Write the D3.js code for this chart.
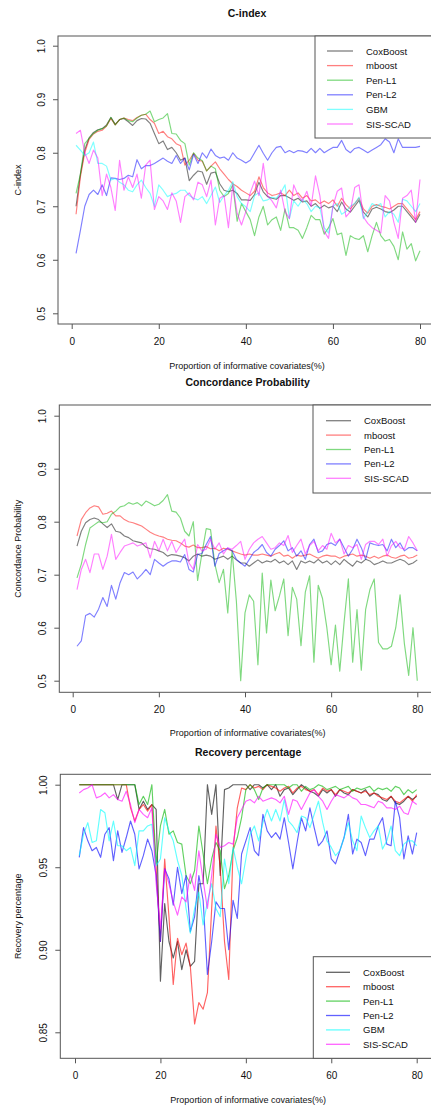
<!DOCTYPE html>
<html><head><meta charset="utf-8">
<script src="https://cdn.jsdelivr.net/npm/d3@7"></script>
<style>body{margin:0;background:#fff}svg{display:block}text{font-family:"Liberation Sans",Arial,sans-serif;fill:#111}</style>
</head><body><svg id="c" width="431" height="1106"></svg>
<script>
const xValues = d3.range(1, 81);
const xTicks = [0, 20, 40, 60, 80];
const yTicks12 = [0.5, 0.6, 0.7, 0.8, 0.9, 1.0];
const yTicks3 = [0.85, 0.90, 0.95, 1.00];
const titles = ["C-index", "Concordance Probability", "Recovery percentage"];
const yLabels = ["C-index", "Concordance Probability", "Recovery percentage"];
const xLabel = "Proportion of informative covariates(%)";
const methods6 = ["CoxBoost", "mboost", "Pen-L1", "Pen-L2", "GBM", "SIS-SCAD"];
const methods5 = ["CoxBoost", "mboost", "Pen-L1", "Pen-L2", "SIS-SCAD"];

// ---- C-index ----
const cCox = [0.700,0.760,0.805,0.828,0.838,0.843,0.845,0.852,0.866,0.853,
 0.862,0.864,0.858,0.851,0.860,0.864,0.863,0.855,0.836,0.817,
 0.822,0.806,0.810,0.800,0.786,0.790,0.748,0.758,0.766,0.764,
 0.741,0.762,0.764,0.742,0.730,0.727,0.730,0.724,0.712,0.712,
 0.711,0.722,0.745,0.727,0.718,0.715,0.713,0.720,0.720,0.716,
 0.711,0.715,0.708,0.710,0.700,0.705,0.696,0.702,0.697,0.700,
 0.690,0.708,0.695,0.689,0.700,0.711,0.689,0.680,0.695,0.698,
 0.695,0.690,0.688,0.693,0.700,0.700,0.690,0.680,0.670,0.685];
const cMboost = [0.685,0.755,0.800,0.825,0.835,0.840,0.842,0.850,0.864,0.852,
 0.862,0.865,0.862,0.860,0.866,0.870,0.872,0.862,0.855,0.836,
 0.840,0.830,0.826,0.817,0.813,0.777,0.786,0.799,0.786,0.784,
 0.766,0.775,0.783,0.770,0.760,0.750,0.742,0.737,0.730,0.725,
 0.720,0.728,0.755,0.735,0.725,0.720,0.722,0.725,0.720,0.730,
 0.720,0.725,0.715,0.720,0.710,0.712,0.705,0.710,0.705,0.712,
 0.700,0.715,0.703,0.695,0.705,0.715,0.695,0.687,0.700,0.703,
 0.700,0.698,0.695,0.700,0.705,0.705,0.695,0.685,0.675,0.690];
const cPenL1 = [0.724,0.760,0.817,0.827,0.836,0.842,0.845,0.850,0.866,0.852,
 0.862,0.865,0.860,0.858,0.865,0.870,0.872,0.878,0.858,0.862,
 0.865,0.873,0.836,0.835,0.823,0.817,0.777,0.800,0.790,0.785,
 0.766,0.775,0.770,0.730,0.718,0.724,0.740,0.672,0.705,0.690,
 0.675,0.645,0.680,0.700,0.665,0.675,0.680,0.655,0.695,0.660,
 0.660,0.655,0.640,0.660,0.683,0.675,0.675,0.648,0.660,0.677,
 0.647,0.650,0.608,0.645,0.640,0.638,0.645,0.615,0.645,0.670,
 0.645,0.635,0.638,0.625,0.600,0.652,0.620,0.630,0.598,0.617];
const cPenL2 = [0.612,0.655,0.700,0.722,0.730,0.722,0.740,0.720,0.753,0.752,
 0.750,0.752,0.758,0.755,0.787,0.770,0.776,0.776,0.780,0.785,
 0.790,0.784,0.780,0.795,0.780,0.790,0.768,0.797,0.780,0.800,
 0.790,0.807,0.795,0.790,0.792,0.786,0.800,0.790,0.786,0.781,
 0.786,0.800,0.814,0.799,0.786,0.800,0.810,0.812,0.800,0.804,
 0.800,0.804,0.803,0.800,0.808,0.800,0.808,0.800,0.805,0.810,
 0.810,0.823,0.806,0.800,0.808,0.810,0.805,0.800,0.805,0.810,
 0.815,0.826,0.820,0.800,0.826,0.810,0.810,0.810,0.810,0.812];
const cGBM = [0.814,0.805,0.795,0.800,0.820,0.780,0.780,0.775,0.749,0.752,
 0.745,0.740,0.730,0.727,0.740,0.749,0.735,0.724,0.700,0.740,
 0.730,0.718,0.722,0.724,0.730,0.730,0.720,0.715,0.712,0.718,
 0.705,0.720,0.736,0.707,0.720,0.730,0.746,0.718,0.705,0.699,
 0.690,0.720,0.725,0.710,0.712,0.717,0.715,0.725,0.740,0.677,
 0.710,0.700,0.713,0.705,0.690,0.700,0.697,0.660,0.650,0.700,
 0.705,0.685,0.690,0.700,0.705,0.717,0.677,0.690,0.705,0.700,
 0.705,0.680,0.690,0.685,0.670,0.713,0.710,0.700,0.690,0.705];
const cSIS = [0.836,0.842,0.800,0.780,0.805,0.790,0.720,0.760,0.735,0.692,
 0.786,0.730,0.755,0.735,0.760,0.715,0.777,0.786,0.694,0.718,
 0.710,0.694,0.725,0.710,0.670,0.718,0.725,0.712,0.745,0.740,
 0.718,0.749,0.665,0.715,0.720,0.660,0.740,0.687,0.665,0.690,
 0.725,0.747,0.720,0.780,0.720,0.710,0.697,0.730,0.690,0.677,
 0.740,0.720,0.710,0.728,0.700,0.757,0.720,0.653,0.640,0.700,
 0.728,0.734,0.680,0.690,0.735,0.740,0.680,0.668,0.660,0.655,
 0.650,0.720,0.710,0.670,0.640,0.715,0.720,0.730,0.670,0.750];

// ---- Concordance Probability ----
const pCox = [0.754,0.782,0.798,0.804,0.807,0.804,0.796,0.789,0.796,0.782,
 0.780,0.773,0.770,0.764,0.762,0.760,0.752,0.749,0.748,0.745,
 0.742,0.735,0.738,0.737,0.735,0.732,0.726,0.735,0.739,0.735,
 0.737,0.735,0.729,0.732,0.735,0.729,0.735,0.728,0.722,0.722,
 0.716,0.722,0.728,0.722,0.726,0.724,0.729,0.722,0.726,0.719,
 0.726,0.710,0.726,0.722,0.726,0.722,0.729,0.722,0.726,0.719,
 0.726,0.719,0.729,0.722,0.716,0.726,0.722,0.729,0.726,0.719,
 0.722,0.726,0.722,0.722,0.726,0.729,0.726,0.719,0.722,0.728];
const pMboost = [0.773,0.804,0.817,0.826,0.830,0.828,0.814,0.816,0.820,0.811,
 0.811,0.804,0.800,0.798,0.795,0.792,0.786,0.780,0.776,0.773,
 0.771,0.767,0.765,0.764,0.760,0.754,0.752,0.756,0.751,0.751,
 0.753,0.749,0.750,0.745,0.750,0.748,0.745,0.742,0.739,0.737,
 0.739,0.737,0.737,0.739,0.737,0.735,0.739,0.742,0.735,0.737,
 0.731,0.737,0.735,0.737,0.739,0.735,0.731,0.735,0.737,0.735,
 0.735,0.731,0.735,0.737,0.739,0.735,0.737,0.735,0.731,0.735,
 0.731,0.735,0.737,0.733,0.731,0.735,0.737,0.731,0.733,0.737];
const pPenL1 = [0.694,0.720,0.757,0.788,0.794,0.800,0.798,0.800,0.814,0.820,
 0.828,0.830,0.836,0.833,0.836,0.830,0.839,0.835,0.830,0.833,
 0.840,0.851,0.820,0.818,0.807,0.782,0.773,0.800,0.689,0.740,
 0.787,0.785,0.720,0.685,0.710,0.628,0.745,0.650,0.500,0.628,
 0.662,0.650,0.530,0.703,0.590,0.690,0.632,0.660,0.692,0.585,
 0.676,0.654,0.566,0.667,0.698,0.535,0.680,0.655,0.600,0.530,
 0.605,0.518,0.610,0.692,0.535,0.634,0.520,0.634,0.672,0.692,
 0.572,0.560,0.560,0.565,0.600,0.662,0.570,0.510,0.600,0.500];
const pPenL2 = [0.565,0.575,0.623,0.627,0.620,0.635,0.657,0.640,0.680,0.654,
 0.685,0.704,0.700,0.705,0.692,0.700,0.710,0.700,0.729,0.722,
 0.716,0.722,0.726,0.726,0.724,0.738,0.710,0.705,0.738,0.740,
 0.757,0.772,0.716,0.740,0.745,0.750,0.745,0.729,0.722,0.716,
 0.729,0.742,0.748,0.757,0.742,0.735,0.748,0.755,0.764,0.745,
 0.751,0.735,0.745,0.729,0.757,0.767,0.742,0.745,0.757,0.760,
 0.755,0.767,0.751,0.735,0.748,0.767,0.751,0.729,0.760,0.757,
 0.755,0.757,0.745,0.767,0.751,0.760,0.745,0.751,0.751,0.745];
const pSIS = [0.672,0.710,0.729,0.704,0.739,0.739,0.710,0.735,0.776,0.729,
 0.742,0.754,0.757,0.760,0.754,0.757,0.760,0.732,0.763,0.745,
 0.767,0.745,0.763,0.742,0.755,0.767,0.722,0.710,0.757,0.745,
 0.748,0.767,0.748,0.760,0.739,0.751,0.748,0.755,0.763,0.729,
 0.748,0.760,0.767,0.772,0.760,0.748,0.751,0.760,0.755,0.774,
 0.742,0.755,0.767,0.739,0.755,0.763,0.745,0.755,0.748,0.778,
 0.760,0.767,0.739,0.755,0.751,0.757,0.729,0.757,0.763,0.763,
 0.757,0.767,0.735,0.755,0.763,0.751,0.748,0.772,0.760,0.745];

// ---- Recovery percentage ----
const rCox = [1.000,1.000,1.000,1.000,1.000,1.000,1.000,1.000,1.000,0.991,
 1.000,1.000,1.000,1.000,0.985,0.990,0.985,0.988,0.985,0.881,
 0.928,0.905,0.895,0.905,0.888,0.900,0.890,0.893,0.940,0.940,
 1.000,0.982,1.000,0.945,0.997,0.998,1.000,1.000,1.000,1.000,
 0.997,1.000,1.000,0.998,1.000,0.997,1.000,0.993,0.997,0.998,
 0.994,0.997,1.000,0.998,0.996,0.995,0.993,0.997,0.995,0.997,
 0.993,0.997,0.995,0.994,0.997,0.996,0.995,0.997,0.993,0.995,
 0.994,0.991,0.990,0.993,0.989,0.988,0.990,0.993,0.991,0.993];
const rMboost = [1.000,1.000,1.000,1.000,1.000,1.000,1.000,1.000,1.000,1.000,
 1.000,1.000,0.986,0.978,0.985,0.988,0.984,0.988,0.950,0.905,
 0.955,0.920,0.879,0.907,0.897,0.904,0.890,0.855,0.868,0.864,
 0.874,0.925,0.975,0.950,0.905,0.882,0.960,0.986,0.998,0.997,
 1.000,0.998,0.999,0.997,1.000,0.999,0.998,0.996,0.998,0.999,
 0.995,0.998,0.999,0.997,0.996,0.997,0.994,0.998,0.996,0.997,
 0.994,0.997,0.996,0.995,0.997,0.996,0.995,0.996,0.994,0.995,
 0.993,0.992,0.991,0.993,0.990,0.989,0.991,0.993,0.990,0.994];
const rPenL1 = [1.000,1.000,1.000,1.000,1.000,1.000,1.000,1.000,1.000,1.000,
 1.000,1.000,1.000,1.000,0.988,0.993,0.988,1.000,0.952,0.975,
 0.985,0.970,0.972,0.965,0.964,0.945,0.940,0.948,0.975,0.958,
 0.940,0.955,0.965,0.960,0.937,0.945,0.960,0.968,0.980,0.997,
 1.000,0.997,0.991,0.998,1.000,1.000,1.000,1.000,1.000,0.998,
 1.000,1.000,0.996,0.999,0.997,0.998,1.000,0.999,0.997,0.998,
 0.999,0.997,0.998,0.999,0.996,0.998,0.997,0.998,0.999,0.996,
 0.998,0.997,0.998,0.996,0.999,0.998,0.994,0.997,0.995,0.997];
const rPenL2 = [0.956,0.974,0.966,0.960,0.962,0.956,0.970,0.974,0.954,0.972,
 0.959,0.968,0.978,0.970,0.949,0.957,0.967,0.960,0.945,0.905,
 0.949,0.943,0.927,0.950,0.934,0.945,0.911,0.920,0.945,0.930,
 0.885,0.905,0.929,0.925,0.925,0.900,0.930,0.919,0.958,0.966,
 0.974,0.960,0.957,0.982,0.972,0.968,0.971,0.967,0.980,0.965,
 0.949,0.965,0.980,0.972,0.986,0.974,0.963,0.966,0.972,0.955,
 0.952,0.960,0.968,0.982,0.958,0.967,0.965,0.957,0.967,0.967,
 0.975,0.980,0.964,0.963,0.990,0.980,0.955,0.969,0.958,0.971];
const rGBM = [0.957,0.970,0.977,0.965,0.966,0.985,0.983,0.966,0.978,0.963,
 0.963,0.960,0.962,0.951,0.972,0.972,0.975,0.976,0.951,0.955,
 0.980,0.972,0.966,0.954,0.945,0.925,0.910,0.925,0.935,0.915,
 0.929,0.940,0.925,0.920,0.955,0.940,0.962,0.950,0.940,0.955,
 0.970,0.975,0.966,0.977,0.985,0.978,0.985,0.978,0.991,0.978,
 0.975,0.971,0.981,0.980,0.974,0.982,0.990,0.977,0.966,0.962,
 0.957,0.960,0.968,0.977,0.966,0.960,0.981,0.974,0.968,0.972,
 0.975,0.961,0.966,0.975,0.960,0.957,0.964,0.966,0.966,0.963];
const rSIS = [0.995,0.997,0.998,1.000,0.992,0.993,0.995,0.992,0.994,0.991,
 0.990,0.996,0.988,0.977,0.985,0.982,0.980,0.986,0.940,0.913,
 0.949,0.940,0.929,0.921,0.932,0.929,0.946,0.936,0.960,0.942,
 0.925,0.945,0.970,0.962,0.963,0.965,0.964,0.980,0.985,0.990,
 0.991,0.989,0.993,0.990,0.991,0.992,0.991,0.989,0.993,0.982,
 0.991,0.990,0.985,0.990,0.995,0.997,0.993,0.990,0.985,0.990,
 0.994,0.993,0.992,0.994,0.992,0.991,0.988,0.988,0.987,0.986,
 0.990,0.989,0.986,0.986,0.985,0.987,0.983,0.982,0.990,0.988];

const colorOf = {"CoxBoost":"#000000","mboost":"#ff0000","Pen-L1":"#00b400","Pen-L2":"#0000ff","GBM":"#00ffff","SIS-SCAD":"#ff00ff"};

const panels = [
  {title:titles[0], ylab:yLabels[0], names:methods6, series:[cCox,cMboost,cPenL1,cPenL2,cGBM,cSIS],
   left:58, top:36, bottom:324, right:436, xr:[71.7,420], yd:[0.5,1.0], yr:[313.3,45.7], yt:yTicks12, fmt:d3.format(".1f"),
   titleY:17, xlabY:369, leg:{x:315, y:36, h:102, row0:51, step:14.6, lx0:327, lx1:353, tx:366}, op:0.5},
  {title:titles[1], ylab:yLabels[1], names:methods5, series:[pCox,pMboost,pPenL1,pPenL2,pSIS],
   left:59.3, top:405, bottom:692.3, right:436, xr:[72.7,417.3], yd:[0.5,1.0], yr:[680.7,415.7], yt:yTicks12, fmt:d3.format(".1f"),
   titleY:386, xlabY:736, leg:{x:313, y:405, h:88, row0:420.7, step:14.4, lx0:326, lx1:351, tx:364}, op:0.5},
  {title:titles[2], ylab:yLabels[2], names:methods6, series:[rCox,rMboost,rPenL1,rPenL2,rGBM,rSIS],
   left:60.3, top:774.3, bottom:1058.3, right:436, xr:[75,416.7], yd:[0.85,1.0], yr:[1032.3,784.7], yt:yTicks3, fmt:d3.format(".2f"),
   titleY:756, xlabY:1103, leg:{x:313.3, y:956.7, h:101.6, row0:972.3, step:14.4, lx0:326, lx1:350, tx:363}, op:0.62}
];

const svg = d3.select("#c");
panels.forEach(p => {
  const g = svg.append("g");
  const x = d3.scaleLinear().domain([0, 80]).range(p.xr);
  const y = d3.scaleLinear().domain(p.yd).range(p.yr);
  const cx = (p.left + p.right) / 2;

  g.append("text").attr("x", cx).attr("y", p.titleY).attr("text-anchor", "middle")
    .style("font-size", "10.5px").style("font-weight", "bold").text(p.title);
  g.append("text").attr("x", cx).attr("y", p.xlabY).attr("text-anchor", "middle")
    .style("font-size", "9px").text(xLabel);
  g.append("text").attr("transform", `translate(21,${(p.top + p.bottom) / 2}) rotate(-90)`)
    .attr("text-anchor", "middle").style("font-size", "9px").text(p.ylab);

  // lines
  const line = d3.line().x((d, i) => x(xValues[i])).y(d => y(d));
  p.series.forEach((s, k) => {
    g.append("path").datum(s).attr("d", line).attr("fill", "none")
      .attr("stroke", colorOf[p.names[k]]).attr("stroke-opacity", p.op)
      .attr("stroke-width", 1.15).attr("stroke-linejoin", "round");
  });

  // axes
  const ax = g.append("g").attr("transform", `translate(0,${p.bottom})`)
    .call(d3.axisBottom(x).tickValues(xTicks).tickSize(5).tickSizeOuter(0).tickFormat(d3.format("d")));
  ax.select(".domain").remove();
  ax.selectAll("line").attr("stroke", "#555");
  ax.selectAll("text").attr("y", 14).style("font-size", "10px").style("font-family", "Liberation Sans, Arial, sans-serif").attr("fill", "#111");

  const ay = g.append("g").attr("transform", `translate(${p.left},0)`)
    .call(d3.axisLeft(y).tickValues(p.yt).tickSize(5).tickSizeOuter(0).tickFormat(p.fmt));
  ay.select(".domain").remove();
  ay.selectAll("line").attr("stroke", "#555");
  ay.selectAll("text").attr("transform", "rotate(-90)").attr("x", 0).attr("y", -13).attr("dy", null)
    .attr("text-anchor", "middle").style("font-size", "10px")
    .style("font-family", "Liberation Sans, Arial, sans-serif").attr("fill", "#111");

  // box
  g.append("rect").attr("x", p.left).attr("y", p.top).attr("width", p.right - p.left).attr("height", p.bottom - p.top)
    .attr("fill", "none").attr("stroke", "#555").attr("stroke-width", 1);

  // legend
  const L = p.leg;
  g.append("rect").attr("x", L.x).attr("y", L.y).attr("width", 440 - L.x).attr("height", L.h)
    .attr("fill", "#fff").attr("stroke", "#555").attr("stroke-width", 1);
  p.names.forEach((n, k) => {
    const yy = L.row0 + k * L.step;
    g.append("line").attr("x1", L.lx0).attr("x2", L.lx1).attr("y1", yy).attr("y2", yy)
      .attr("stroke", colorOf[n]).attr("stroke-opacity", p.op).attr("stroke-width", 1.3);
    g.append("text").attr("x", L.tx).attr("y", yy + 3.5).style("font-size", "9.5px").text(n);
  });
});
</script>
</body></html>
